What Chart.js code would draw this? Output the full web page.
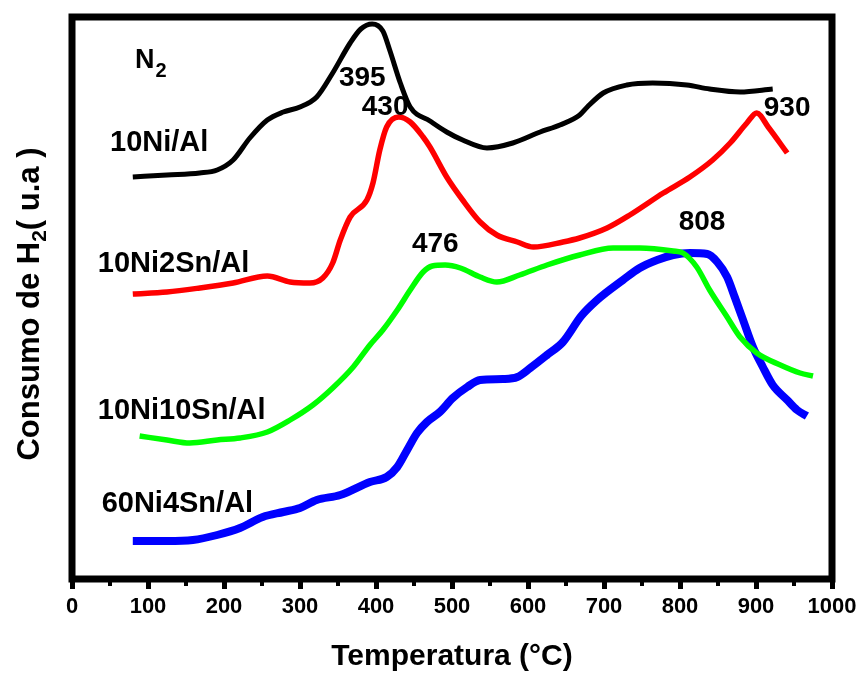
<!DOCTYPE html>
<html lang="es">
<head>
<meta charset="UTF-8">
<title>TPR - Consumo de H2</title>
<script src="https://cdn.jsdelivr.net/npm/chart.js"></script>
<style>
  html, body { margin: 0; padding: 0; background: #fff; }
  canvas { display: block; }
</style>
</head>
<body>
<canvas id="tprChart" width="862" height="673"></canvas>
<script>
// TPR profiles: temperature (°C) and H2 consumption signal (u.a.)
const tempNiAl = [80,125,168,191,212,234,257,278,300,322,343,366,380,395,409,418,432,445,471,493,514,546,580,616,642,668,678,699,730,764,809,839,879,922];
const h2NiAl   = [402,404,406,409,419,441,459,467,472,482,506,536,550,555,548,529,496,472,458,447,439,431,436,447,454,464,472,486,494,496,494,490,487,490];

const tempNi2Sn = [80,125,168,212,257,287,313,330,343,353,366,388,396,405,414,430,445,462,471,493,514,537,559,586,607,646,668,704,734,778,813,843,866,888,901,916,941];
const h2Ni2Sn   = [285,287,291,296,303,297,296,301,316,339,362,379,396,429,452,462,457,442,432,402,379,357,344,337,332,337,341,351,364,386,402,419,436,456,466,452,426];

const tempNi10Sn = [89,125,155,191,221,257,287,317,343,370,392,409,428,445,462,474,491,511,537,559,589,625,668,712,747,791,804,822,839,862,879,901,932,958,975];
const h2Ni10Sn   = [143,139,136,139,141,147,159,174,191,212,234,249,269,289,307,313,314,311,302,297,304,314,324,331,331,328,326,312,289,262,242,226,214,206,203];

const temp60Ni4Sn = [80,125,159,191,221,251,278,300,322,353,392,414,428,441,454,467,484,501,520,537,567,586,603,625,646,670,691,725,747,770,791,813,836,849,862,872,883,896,909,922,941,954,967];
const h260Ni4Sn   = [38,38,39,44,51,62,67,71,79,84,97,102,112,129,146,157,167,181,192,199,200,202,211,224,237,263,279,299,311,319,324,326,325,317,302,282,259,232,212,194,179,169,163];

const seriesNames = ['10Ni/Al', '10Ni2Sn/Al', '10Ni10Sn/Al', '60Ni4Sn/Al'];
const peakLabels  = ['395', '430', '476', '808', '930'];
const atmosphere  = 'N';   // drawn as N2 with subscript

const xMin = 0, xMax = 1000, xStep = 100;
const yMin = 0, yMax = 562;

const FONT = '"Liberation Sans", Arial, sans-serif';

function toPoints(temps, values) {
    return temps.map((t, i) => ({ x: t, y: values[i] }));
}

// where the text sits, in data units (T, signal)
const namePos = [[50, 436], [34, 315], [34, 168], [39, 75]];
const peakPos = [[382, 501], [412, 472], [478, 335], [829, 357], [941, 471]];
const atmPos = [83, 521];

const textPlugin = {
    id: 'tprText',
    beforeDatasetsDraw(chart) {
        // minor ticks at the half hundreds
        const ctx = chart.ctx;
        const xs = chart.scales.x;
        const area = chart.chartArea;
        ctx.save();
        ctx.strokeStyle = '#000';
        ctx.lineWidth = 4;
        for (let t = xMin + xStep / 2; t < xMax; t += xStep) {
            const px = xs.getPixelForValue(t);
            ctx.beginPath();
            ctx.moveTo(px, area.bottom);
            ctx.lineTo(px, area.bottom + 7);
            ctx.stroke();
        }
        ctx.restore();
    },
    afterDatasetsDraw(chart) {
        const ctx = chart.ctx;
        const xs = chart.scales.x, ys = chart.scales.y;
        const area = chart.chartArea;
        ctx.save();

        // frame
        ctx.strokeStyle = '#000';
        ctx.lineWidth = 7;
        ctx.strokeRect(area.left, area.top, area.right - area.left, area.bottom - area.top);

        ctx.fillStyle = '#000';
        ctx.textBaseline = 'middle';

        // sample names
        ctx.font = 'bold 29px ' + FONT;
        ctx.textAlign = 'left';
        seriesNames.forEach((name, i) => {
            ctx.fillText(name, xs.getPixelForValue(namePos[i][0]), ys.getPixelForValue(namePos[i][1]));
        });

        // peak temperatures
        ctx.font = 'bold 28px ' + FONT;
        ctx.textAlign = 'center';
        peakLabels.forEach((txt, i) => {
            ctx.fillText(txt, xs.getPixelForValue(peakPos[i][0]), ys.getPixelForValue(peakPos[i][1]));
        });

        // N2
        ctx.textAlign = 'left';
        ctx.textBaseline = 'alphabetic';
        const nx = xs.getPixelForValue(atmPos[0]);
        const ny = ys.getPixelForValue(atmPos[1]) + 10;
        ctx.font = 'bold 27px ' + FONT;
        ctx.fillText(atmosphere, nx, ny);
        const nw = ctx.measureText(atmosphere).width;
        ctx.font = 'bold 20px ' + FONT;
        ctx.fillText('2', nx + nw + 1, ny + 9);

        // x axis title
        ctx.font = 'bold 30px ' + FONT;
        ctx.textAlign = 'center';
        ctx.textBaseline = 'middle';
        ctx.fillText('Temperatura (°C)', (area.left + area.right) / 2, area.bottom + 78);

        // y axis title, rotated, with subscript 2
        const big = 'bold 31px ' + FONT, small = 'bold 21px ' + FONT;
        const p1 = 'Consumo de H', p2 = '2', p3 = '( u.a )';
        ctx.font = big;
        const w1 = ctx.measureText(p1).width, w3 = ctx.measureText(p3).width;
        ctx.font = small;
        const w2 = ctx.measureText(p2).width;
        const total = w1 + w2 + w3;
        ctx.translate(area.left - 44, (area.top + area.bottom) / 2 + 6);
        ctx.rotate(-Math.PI / 2);
        ctx.textAlign = 'left';
        ctx.textBaseline = 'alphabetic';
        let x0 = -total / 2;
        ctx.font = big;
        ctx.fillText(p1, x0, 11);
        ctx.font = small;
        ctx.fillText(p2, x0 + w1, 18);
        ctx.font = big;
        ctx.fillText(p3, x0 + w1 + w2, 11);

        ctx.restore();
    }
};

const ctx = document.getElementById('tprChart').getContext('2d');
const chart = new Chart(ctx, {
    type: 'line',
    data: {
        datasets: [
            { label: seriesNames[0], data: toPoints(tempNiAl, h2NiAl), borderColor: '#000000', borderWidth: 5 },
            { label: seriesNames[1], data: toPoints(tempNi2Sn, h2Ni2Sn), borderColor: '#ff0000', borderWidth: 5.5 },
            { label: seriesNames[2], data: toPoints(tempNi10Sn, h2Ni10Sn), borderColor: '#00ff00', borderWidth: 5.5 },
            { label: seriesNames[3], data: toPoints(temp60Ni4Sn, h260Ni4Sn), borderColor: '#0000ff', borderWidth: 8 }
        ]
    },
    options: {
        responsive: false,
        animation: false,
        layout: { padding: { top: 17, right: 30, left: 0, bottom: 0 } },
        elements: {
            point: { radius: 0 },
            line: { cubicInterpolationMode: 'monotone', fill: false }
        },
        plugins: { legend: { display: false }, tooltip: { enabled: false } },
        scales: {
            x: {
                type: 'linear',
                min: xMin,
                max: xMax,
                ticks: {
                    stepSize: xStep,
                    color: '#000',
                    font: { family: FONT, size: 22, weight: 'bold' },
                    padding: 5,
                    maxRotation: 0,
                    autoSkip: false,
                    callback: (v) => String(v)
                },
                grid: { drawOnChartArea: false, drawTicks: true, tickLength: 10, tickWidth: 5, tickColor: '#000' },
                border: { display: false },
                afterFit(scale) { scale.height = 94; }
            },
            y: {
                min: yMin,
                max: yMax,
                ticks: { display: false },
                grid: { display: false },
                border: { display: false },
                afterFit(scale) { scale.width = 72; }
            }
        }
    },
    plugins: [textPlugin]
});
</script>
</body>
</html>
